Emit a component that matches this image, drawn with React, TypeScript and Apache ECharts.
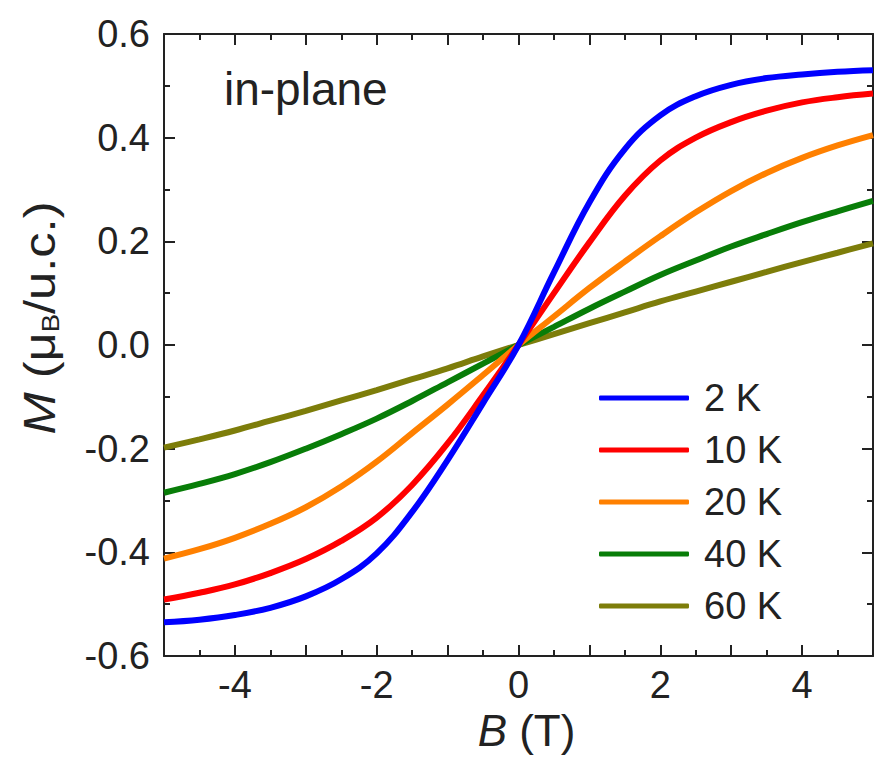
import React, { useEffect, useRef } from "react";
import * as echarts from "echarts";

const fieldT = [-5, -4.5, -4, -3.5, -3, -2.5, -2, -1.5, -1, -0.5, 0, 0.5, 1, 1.5, 2, 2.5, 3, 3.5, 4, 4.5, 5];
const m2K = [-0.535, -0.53, -0.521, -0.507, -0.485, -0.452, -0.402, -0.322, -0.222, -0.112, 0, 0.14, 0.275, 0.378, 0.443, 0.48, 0.502, 0.515, 0.522, 0.527, 0.53];
const m10K = [-0.491, -0.478, -0.462, -0.44, -0.413, -0.378, -0.333, -0.27, -0.19, -0.097, 0, 0.1, 0.198, 0.288, 0.356, 0.4, 0.43, 0.452, 0.468, 0.478, 0.485];
const m20K = [-0.412, -0.394, -0.372, -0.345, -0.313, -0.273, -0.225, -0.17, -0.115, -0.058, 0, 0.055, 0.11, 0.161, 0.21, 0.256, 0.297, 0.332, 0.361, 0.385, 0.405];
const m40K = [-0.285, -0.268, -0.249, -0.226, -0.2, -0.172, -0.142, -0.108, -0.072, -0.036, 0, 0.035, 0.07, 0.103, 0.135, 0.163, 0.19, 0.214, 0.237, 0.258, 0.278];
const m60K = [-0.198, -0.182, -0.165, -0.146, -0.127, -0.107, -0.087, -0.066, -0.045, -0.022, 0, 0.021, 0.042, 0.063, 0.084, 0.103, 0.122, 0.141, 0.16, 0.178, 0.196];

const seriesNames = ["2 K", "10 K", "20 K", "40 K", "60 K"];
const seriesColors = ["#0000ff", "#ff0000", "#ff8000", "#087d08", "#7d7d0a"];
const seriesValues = [m2K, m10K, m20K, m40K, m60K];

const xTicks = [-4, -2, 0, 2, 4];

const FONT = "'Liberation Sans', Arial, sans-serif";
const AX = "#222";

export default function App() {
  const ref = useRef<HTMLDivElement>(null);
  useEffect(() => {
    if (!ref.current) return;
    const chart = echarts.init(ref.current, null, { renderer: "svg" });
    const axisCommon = {
      axisLine: { show: true, onZero: false, lineStyle: { color: AX, width: 2 } },
      axisTick: { show: true, inside: true, length: 11, lineStyle: { color: AX, width: 2 } },
      minorTick: { show: true, splitNumber: 2, length: 6, lineStyle: { color: AX, width: 2 } },
      splitLine: { show: false },
    };
    chart.setOption({
      animation: false,
      backgroundColor: "#ffffff",
      grid: { left: 164, right: 2, top: 34, bottom: 101, containLabel: false, outerBoundsMode: "none" },
      xAxis: [
        {
          type: "value",
          min: -5,
          max: 5,
          interval: 1,
          position: "bottom",
          ...axisCommon,
          axisLabel: {
            show: true,
            fontSize: 38,
            fontFamily: FONT,
            color: "#222",
            margin: 10,
            formatter: (v: number) => (xTicks.indexOf(v) >= 0 ? String(v) : ""),
          },
          name: "{i|B} (T)",
          nameLocation: "middle",
          nameGap: 50,
          nameTextStyle: {
            fontSize: 44,
            fontFamily: FONT,
            color: "#222",
            padding: [0, 0, 0, 16],
            rich: { i: { fontSize: 44, fontFamily: FONT, fontStyle: "italic", color: "#222" } },
          },
        },
        {
          type: "value",
          min: -5,
          max: 5,
          interval: 1,
          position: "top",
          ...axisCommon,
          axisLabel: { show: false },
        },
      ],
      yAxis: [
        {
          type: "value",
          min: -0.6,
          max: 0.6,
          interval: 0.2,
          position: "left",
          ...axisCommon,
          axisLabel: {
            show: true,
            fontSize: 38,
            fontFamily: FONT,
            color: "#222",
            margin: 14,
            formatter: (v: number) => v.toFixed(1),
          },
        },
        {
          type: "value",
          min: -0.6,
          max: 0.6,
          interval: 0.2,
          position: "right",
          ...axisCommon,
          axisLabel: { show: false },
        },
      ],
      legend: {
        orient: "vertical",
        left: 594,
        top: 373,
        icon: "roundRect",
        itemWidth: 90,
        itemHeight: 5,
        itemGap: 12,
        data: seriesNames,
        textStyle: { fontSize: 38, fontFamily: FONT, color: "#222", lineHeight: 40, padding: [0, 0, 0, 10] },
      },
      graphic: [
        {
          type: "text",
          left: 224,
          top: 66,
          style: { text: "in-plane", fontSize: 46, fontFamily: FONT, fill: "#222" },
        },
        {
          type: "text",
          x: 40,
          y: 318,
          rotation: Math.PI / 2,
          scaleX: 1.15,
          style: {
            text: "{i|M} (μ{s|B}/u.c.)",
            fontSize: 44,
            fontFamily: FONT,
            fill: "#222",
            align: "center",
            verticalAlign: "middle",
            rich: {
              i: { fontSize: 44, fontFamily: FONT, fontStyle: "italic", fill: "#222" },
              s: { fontSize: 24, fontFamily: FONT, fill: "#222", verticalAlign: "bottom", padding: [22, 0, 0, 0] },
            },
          },
        },
      ],
      series: seriesNames.map((name, k) => ({
        name,
        type: "line",
        smooth: 0.4,
        showSymbol: false,
        symbol: "none",
        color: seriesColors[k],
        lineStyle: { width: 6, color: seriesColors[k] },
        data: fieldT.map((b, i) => [b, seriesValues[k][i]]),
        z: 10 - k,
      })),
    });
    return () => chart.dispose();
  }, []);
  return <div ref={ref} style={{ position: "fixed", left: 0, top: 0, width: 875, height: 757 }} />;
}
